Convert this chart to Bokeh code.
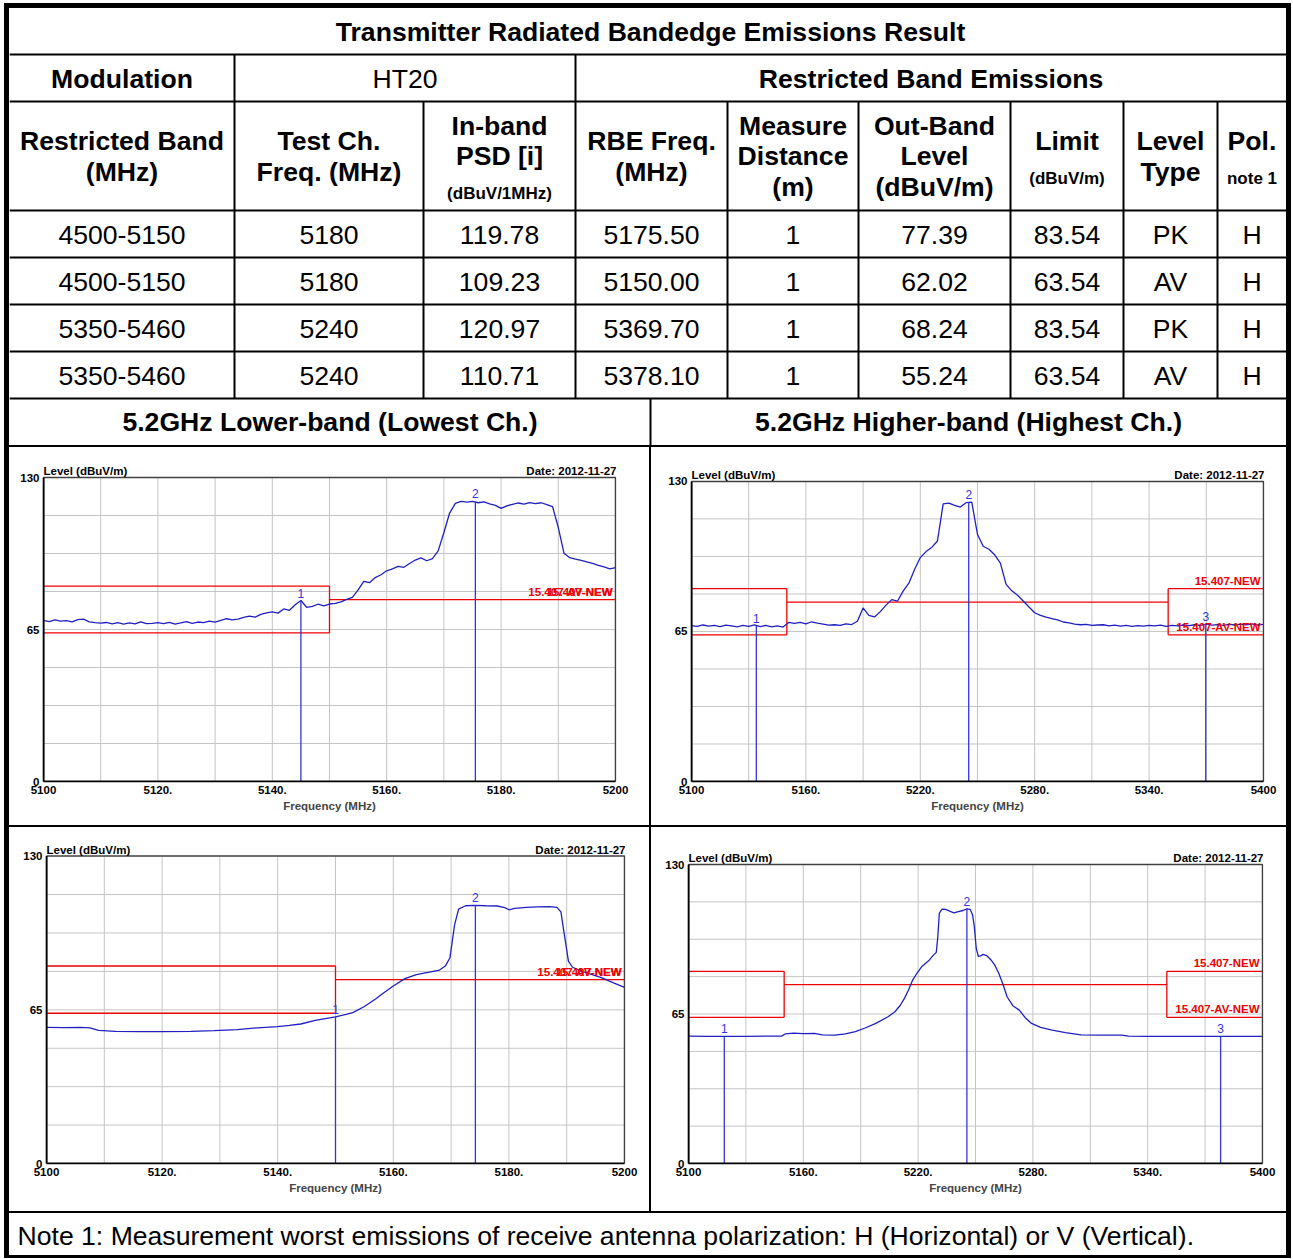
from bokeh.plotting import figure
from bokeh.layouts import column, row
from bokeh.models import Range1d, FixedTicker
from bokeh.core.properties import value
from bokeh.embed import file_html
from bokeh.resources import INLINE

FONT = "Liberation Sans"

# ---------------- table content ----------------
table_title = "Transmitter Radiated Bandedge Emissions Result"
modulation_label = "Modulation"
modulation = "HT20"
rbe_label = "Restricted Band Emissions"
header_main = ["Restricted Band\n(MHz)", "Test Ch.\nFreq. (MHz)", "In-band\nPSD [i]",
               "RBE Freq.\n(MHz)", "Measure\nDistance\n(m)", "Out-Band\nLevel\n(dBuV/m)",
               "Limit", "Level\nType", "Pol."]
header_sub = ["", "", "(dBuV/1MHz)", "", "", "", "(dBuV/m)", "", "note 1"]
restricted_band = ["4500-5150", "4500-5150", "5350-5460", "5350-5460"]
test_ch = ["5180", "5180", "5240", "5240"]
inband_psd = [119.78, 109.23, 120.97, 110.71]
rbe_freq = [5175.50, 5150.00, 5369.70, 5378.10]
distance = ["1", "1", "1", "1"]
outband_level = [77.39, 62.02, 68.24, 55.24]
limit = [83.54, 63.54, 83.54, 63.54]
level_type = ["PK", "AV", "PK", "AV"]
pol = ["H", "H", "H", "H"]
section_titles = ["5.2GHz Lower-band (Lowest Ch.)", "5.2GHz Higher-band (Highest Ch.)"]
note_text = "Note 1: Measurement worst emissions of receive antenna polarization: H (Horizontal) or V (Vertical)."
level_label = "Level (dBuV/m)"
date_label = "Date: 2012-11-27"

# ---------------- spectrum data ----------------
y_ticks = [0, 65, 130]
y_grid = [16.25, 32.5, 48.75, 65, 81.25, 97.5, 113.75]
low_grid = [5110, 5120, 5130, 5140, 5150, 5160, 5170, 5180, 5190]
low_ticks = [5100, 5120, 5140, 5160, 5180, 5200]
low_tick_text = ["5100", "5120.", "5140.", "5160.", "5180.", "5200"]
high_grid = [5130, 5160, 5190, 5220, 5250, 5280, 5310, 5340, 5370]
high_ticks = [5100, 5160, 5220, 5280, 5340, 5400]
high_tick_text = ["5100", "5160.", "5220.", "5280.", "5340.", "5400"]

limit_pk = 83.54
limit_av = 63.54
limit_15407 = 77.74

# Plot 1: lowest channel, peak (1 MHz sweep points)
pk_low_freq = list(range(5100, 5201))
pk_low_level = [
    68.9, 68.4, 69.1, 68.6, 68.8, 68.3, 69.2, 69.4, 68.3, 67.9,
    67.7, 68.0, 67.4, 67.9, 67.3, 67.8, 67.4, 68.3, 67.5, 67.6,
    67.9, 67.5, 68.0, 67.3, 67.8, 68.4, 67.6, 68.2, 67.9, 68.6,
    68.2, 68.9, 69.6, 69.1, 69.4, 70.2, 70.7, 70.3, 71.5, 72.1,
    72.5, 72.0, 73.8, 73.2, 75.6, 77.4, 74.5, 74.9, 75.8, 75.1,
    75.9, 76.2, 76.8, 77.9, 78.7, 81.9, 85.6, 85.0, 87.2, 88.4,
    90.1, 90.9, 92.0, 91.6, 93.2, 94.7, 95.6, 94.4, 95.3, 98.6,
    106.5, 114.8, 118.9, 119.8, 119.5, 119.78, 119.2, 119.6, 118.7, 118.1,
    116.8, 117.9, 118.5, 119.1, 118.6, 119.3, 118.8, 119.2, 118.4, 117.5,
    108.6, 97.6, 95.7, 95.1, 94.6, 93.9, 93.3, 92.4, 91.8, 90.9, 91.5]
pk_low_mk_freq = [5145.0, 5175.5]
pk_low_mk_level = [77.39, 119.78]
pk_low_mk_id = ["1", "2"]

# Plot 2: highest channel, peak (3 MHz sweep points)
pk_high_freq = list(range(5100, 5401, 3))
pk_high_level = [
    67.5, 67.2, 67.8, 67.3, 67.6, 67.1, 67.7, 67.4, 67.0, 67.6,
    67.2, 67.8, 67.1, 67.6, 67.0, 67.4, 66.9, 68.9, 68.5, 68.9,
    68.3, 69.2, 68.6, 68.2, 67.7, 67.9, 67.6, 68.3, 68.0, 69.4,
    75.2, 72.0, 71.3, 73.6, 76.4, 78.8, 78.1, 82.5, 85.9, 91.8,
    97.0, 99.6, 101.4, 104.2, 120.3, 120.6, 119.6, 118.9, 120.8, 121.0,
    107.0, 101.9, 100.6, 98.2, 94.6, 85.4, 82.6, 80.7, 78.2, 75.6,
    73.1, 72.0, 71.2, 70.6, 70.0, 69.1, 68.7, 68.2, 67.9, 68.1,
    67.6, 67.8, 67.9, 67.4, 67.7, 67.3, 67.6, 67.2, 67.5, 67.3,
    67.6, 67.4, 67.7, 67.2, 67.6, 67.4, 67.8, 67.5, 67.9, 67.6,
    68.2, 67.7, 68.0, 67.6, 68.1, 67.8, 68.2, 67.9, 68.3, 67.8, 68.1]
pk_high_mk_freq = [5134.0, 5245.4, 5369.7]
pk_high_mk_level = [67.5, 120.97, 68.24]
pk_high_mk_id = ["1", "2", "3"]

# Plot 3: lowest channel, average
av_low_freq = [5100, 5103, 5106, 5107.5, 5109, 5112, 5116, 5120, 5125, 5129,
               5133, 5136.5, 5140, 5142, 5144, 5146.5, 5148, 5150, 5152, 5153,
               5155, 5157, 5158, 5160, 5162, 5164, 5166, 5168, 5169, 5169.8,
               5170.6, 5171.3, 5172.5, 5174, 5176, 5178, 5179.3, 5180, 5181, 5183,
               5185, 5187, 5188.3, 5189, 5189.6, 5190.3, 5191, 5192.5, 5194, 5196,
               5198, 5200]
av_low_level = [57.6, 57.5, 57.6, 57.4, 56.3, 55.9, 55.8, 55.8, 55.9, 56.2,
                56.6, 57.4, 57.9, 58.4, 59.0, 60.5, 61.2, 62.02, 63.2, 63.8,
                66.4, 69.7, 71.6, 75.1, 78.2, 79.9, 80.8, 81.8, 83.5, 87.0,
                100.9, 107.6, 109.0, 109.2, 109.0, 108.9, 108.2, 107.3, 107.9, 108.3,
                108.5, 108.6, 108.3, 106.4, 96.7, 85.6, 83.0, 81.4, 80.2, 78.6,
                76.5, 74.5]
av_low_mk_freq = [5150.0, 5174.2]
av_low_mk_level = [62.02, 109.23]
av_low_mk_id = ["1", "2"]

# Plot 4: highest channel, average
av_high_freq = [5100, 5110, 5118.7, 5130, 5140, 5148.6, 5150.8, 5155, 5160, 5165.8,
                5170, 5176.5, 5182, 5187.2, 5192, 5197.9, 5204.3, 5208, 5210.8, 5213,
                5215, 5217, 5219.3, 5222, 5225.8, 5228, 5229.5, 5230.3, 5231.1, 5232.5,
                5234.4, 5236.5, 5238.7, 5241, 5243.5, 5245.5, 5247.2, 5248.5, 5249.4, 5250.4,
                5251.5, 5252.6, 5254, 5255.8, 5258, 5260, 5262.2, 5264.5, 5266.5, 5269.5,
                5272.9, 5276, 5279.3, 5284, 5290.1, 5297, 5305.1, 5315, 5326.5, 5330,
                5340, 5350, 5360, 5370, 5378.1, 5390, 5400]
av_high_level = [55.4, 55.3, 55.3, 55.3, 55.4, 55.4, 56.4, 56.7, 56.5, 56.6,
                 55.9, 55.8, 56.4, 57.3, 58.8, 60.9, 63.8, 66.1, 68.9, 72.0,
                 75.4, 79.5, 82.6, 85.7, 88.4, 90.6, 91.8, 98.5, 108.9, 110.6,
                 110.5, 109.7, 109.0, 109.5, 110.0, 110.71, 110.5, 108.0, 102.9, 93.5,
                 90.0, 90.3, 90.9, 90.4, 88.6, 86.4, 82.6, 77.6, 72.5, 68.6,
                 66.7, 63.4, 60.9, 59.2, 58.0, 56.9, 55.9, 55.8, 55.8, 55.4,
                 55.3, 55.3, 55.3, 55.3, 55.24, 55.3, 55.3]
av_high_mk_freq = [5118.7, 5245.5, 5378.1]
av_high_mk_level = [55.3, 110.71, 55.24]
av_high_mk_id = ["1", "2", "3"]

TRACE = "#2020c0"
MARK = "#3434d8"
RED = "#ee0000"
SMALL = "11.5px"
GRID = "#c4c4c4"
WHITE_BG = {"background-color": "white"}


def blank(w, h):
    f = figure(width=w, height=h, x_range=Range1d(0, w), y_range=Range1d(h, 0),
               output_backend="svg", toolbar_location=None, x_axis_type=None,
               y_axis_type=None, min_border=0, styles=WHITE_BG)
    f.grid.visible = False
    f.outline_line_color = None
    f.background_fill_color = "white"
    f.border_fill_color = "white"
    return f


def spectrum(w, h, borders, x_end, grid_x, tick_x, tick_txt, freq, level,
             mk_f, mk_v, mk_id, upper):
    bl, br, bt, bb = borders
    tp = 3
    pw = w - bl - br              # plotting-area width in px
    ph = h - bt - bb              # plotting-area height in px
    fh = h - tp - (bb - 1)        # frame height (plot area + caption strip)
    upx = (x_end - 5100) / pw
    upy = 130 / ph
    p = figure(width=w, height=h,
               x_range=Range1d(5100 - upx, x_end + upx),
               y_range=Range1d(-upy, 130 + (fh - ph - 1) * upy),
               output_backend="svg", toolbar_location=None,
               min_border_left=bl - 1, min_border_right=br - 1,
               min_border_top=tp, min_border_bottom=bb - 1, styles=WHITE_BG)
    p.background_fill_color = "white"
    p.border_fill_color = "white"
    p.outline_line_color = None
    p.grid.visible = False
    p.xaxis.ticker = FixedTicker(ticks=tick_x)
    p.xaxis.major_label_overrides = dict(zip(tick_x, tick_txt))
    p.yaxis.ticker = FixedTicker(ticks=y_ticks)
    for ax in (p.xaxis[0], p.yaxis[0]):
        ax.axis_line_color = None
        ax.major_tick_line_color = None
        ax.minor_tick_line_color = None
        ax.major_tick_out = 0
        ax.major_tick_in = 0
        ax.major_label_text_font = FONT
        ax.major_label_text_font_size = SMALL
        ax.major_label_text_font_style = "bold"
        ax.major_label_text_color = "black"
        ax.major_label_standoff = 3
    p.xaxis.axis_label = "Frequency (MHz)"
    p.xaxis.axis_label_text_font = FONT
    p.xaxis.axis_label_text_font_size = SMALL
    p.xaxis.axis_label_text_font_style = "bold"
    p.xaxis.axis_label_standoff = 3

    # grid
    p.segment(x0=grid_x, y0=[0] * len(grid_x), x1=grid_x, y1=[130] * len(grid_x),
              line_color=GRID, line_width=1)
    p.segment(x0=[5100] * len(y_grid), y0=y_grid, x1=[x_end] * len(y_grid), y1=y_grid,
              line_color=GRID, line_width=1)

    # limit lines
    if upper:
        xs = [[5100, 5150], [5100, 5150], [5150, 5150], [5150, 5350],
              [5350, 5400], [5350, 5400], [5350, 5350]]
        ys = [[limit_pk, limit_pk], [limit_av, limit_av], [limit_av, limit_pk],
              [limit_15407, limit_15407], [limit_pk, limit_pk], [limit_av, limit_av],
              [limit_av, limit_pk]]
        lbl_y = [limit_pk, limit_av]
    else:
        xs = [[5100, 5150], [5100, 5150], [5150, 5150], [5150, 5200]]
        ys = [[limit_pk, limit_pk], [limit_av, limit_av], [limit_av, limit_pk],
              [limit_15407, limit_15407]]
        lbl_y = [limit_15407, limit_15407]
    p.multi_line(xs, ys, line_color=RED, line_width=1.3)

    p.line(freq, level, line_color=TRACE, line_width=1.3)

    p.segment(x0=mk_f, y0=[0] * len(mk_f), x1=mk_f, y1=mk_v, line_color=MARK, line_width=1.3)
    p.text(x=mk_f, y=mk_v, text=mk_id, text_align="center", text_baseline="bottom",
           y_offset=-3, text_color=MARK, text_font=value(FONT), text_font_size="12px")

    p.text(x=[x_end, x_end], y=lbl_y, text=["15.407-NEW", "15.407-AV-NEW"],
           text_align="right", text_baseline="bottom", x_offset=-3, y_offset=-2,
           text_color=RED, text_font=value(FONT), text_font_size=SMALL,
           text_font_style="bold")

    # plot-area box
    p.multi_line([[5100, x_end, x_end], [5100, 5100]], [[130, 130, 0], [0, 130]],
                 line_color="#404040", line_width=1.5)
    p.multi_line([[5100, x_end]], [[0, 0]], line_color="black", line_width=2)
    p.multi_line([[5100, 5100]], [[0, 130]], line_color="black", line_width=2)

    # captions above the plot area
    p.text(x=[5100], y=[130], text=[level_label], text_align="left",
           text_baseline="alphabetic", y_offset=-6.5, text_font=value(FONT),
           text_font_size=SMALL, text_font_style="bold", text_color="black")
    p.text(x=[x_end], y=[130], text=[date_label], text_align="right",
           text_baseline="alphabetic", x_offset=1, y_offset=-6.5, text_font=value(FONT),
           text_font_size=SMALL, text_font_style="bold", text_color="black")
    return p


# ---------------- table figure ----------------
TW, TH = 1277, 437
FS = "26.6px"
col_edges = [0, 225, 414, 566, 718, 849, 1001, 1114, 1208, 1277]
row_edges = [0, 46, 93, 202, 249, 296, 343, 390, 437]
col_mid = [(a + b) / 2 for a, b in zip(col_edges[:-1], col_edges[1:])]

tf = blank(TW, TH)

hx0, hy0, hx1, hy1 = [], [], [], []
for yy in row_edges[1:-1]:
    hx0.append(0); hx1.append(TW); hy0.append(yy); hy1.append(yy)
for xx in [col_edges[1], col_edges[3]]:
    hx0.append(xx); hx1.append(xx); hy0.append(row_edges[1]); hy1.append(row_edges[2])
for xx in col_edges[1:-1]:
    hx0.append(xx); hx1.append(xx); hy0.append(row_edges[2]); hy1.append(row_edges[7])
hx0.append(641); hx1.append(641); hy0.append(row_edges[7]); hy1.append(row_edges[8])
tf.segment(x0=hx0, y0=hy0, x1=hx1, y1=hy1, line_color="black", line_width=2)

big = dict(text_font=value(FONT), text_font_size=FS, text_color="black",
           text_align="center", text_baseline="middle")

tf.text(x=[641], y=[23], text=[table_title], text_font_style="bold", **big)
tf.text(x=[col_mid[0], (col_edges[3] + TW) / 2], y=[70, 70],
        text=[modulation_label, rbe_label], text_font_style="bold", **big)
tf.text(x=[(col_edges[1] + col_edges[3]) / 2], y=[70], text=[modulation], **big)

head_y = [148, 148, 132.5, 148, 148, 148, 132, 148, 132]
tf.text(x=col_mid, y=head_y, text=header_main, text_font_style="bold",
        text_line_height=1.01, **big)
sub_x = [col_mid[i] for i in range(9) if header_sub[i]]
sub_t = [t for t in header_sub if t]
sub_y = [185, 170, 170]
tf.text(x=sub_x, y=sub_y, text=sub_t, text_font=value(FONT), text_font_size="17px",
        text_font_style="bold", text_align="center", text_baseline="middle")

columns = [restricted_band, test_ch, [f"{v:.2f}" for v in inband_psd],
           [f"{v:.2f}" for v in rbe_freq], distance,
           [f"{v:.2f}" for v in outband_level], [f"{v:.2f}" for v in limit],
           level_type, pol]
dx, dy, dt = [], [], []
for ci, col in enumerate(columns):
    for ri, txt in enumerate(col):
        dx.append(col_mid[ci])
        dy.append((row_edges[3 + ri] + row_edges[4 + ri]) / 2 + 0.5)
        dt.append(txt)
tf.text(x=dx, y=dy, text=dt, **big)

tf.text(x=[320.5, 959], y=[413.5, 413.5], text=section_titles, text_font_style="bold", **big)

# ---------------- spectrum figures ----------------
p1 = spectrum(640, 378, (34, 34, 30, 44), 5200, low_grid, low_ticks, low_tick_text,
              pk_low_freq, pk_low_level, pk_low_mk_freq, pk_low_mk_level, pk_low_mk_id, False)
p2 = spectrum(635, 378, (40, 23, 34, 43), 5400, high_grid, high_ticks, high_tick_text,
              pk_high_freq, pk_high_level, pk_high_mk_freq, pk_high_mk_level, pk_high_mk_id, True)
p3 = spectrum(640, 384, (37, 25, 29, 43), 5200, low_grid, low_ticks, low_tick_text,
              av_low_freq, av_low_level, av_low_mk_freq, av_low_mk_level, av_low_mk_id, False)
p4 = spectrum(635, 384, (37, 24, 37, 48), 5400, high_grid, high_ticks, high_tick_text,
              av_high_freq, av_high_level, av_high_mk_freq, av_high_mk_level, av_high_mk_id, True)

# ---------------- note figure ----------------
nf = blank(TW, 42)
nf.text(x=[8], y=[22], text=[note_text], text_font=value(FONT), text_font_size=FS,
        text_align="left", text_baseline="middle", text_color="black")

r1 = row(p1, p2, spacing=2, styles={"background-color": "black"})
r2 = row(p3, p4, spacing=2, styles={"background-color": "black"})
layout = column(tf, r1, r2, nf, spacing=2,
                styles={"background-color": "black", "padding": "5px 5px 3px 5px",
                        "margin": "3px 0 0 4px"})

open("out.html", "w").write(file_html(layout, INLINE))
